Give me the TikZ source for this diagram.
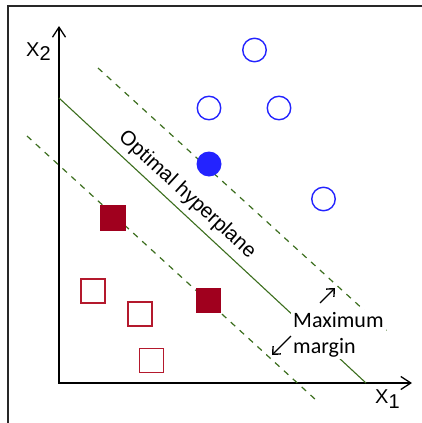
\documentclass[tikz,border=0pt]{standalone}
\usepackage{fontspec}
\setmainfont{Liberation Sans}
\newfontfamily\calfont{Carlito}
\usetikzlibrary{arrows.meta}
\definecolor{hgreen}{RGB}{60,110,30}
\definecolor{ptblue}{RGB}{35,35,255}
\definecolor{ptred}{RGB}{160,0,30}
\definecolor{ptredl}{RGB}{180,25,45}
\definecolor{framec}{RGB}{40,40,40}
\begin{document}
\begin{tikzpicture}[x=1pt,y=-1pt,
  framestyle/.style={draw=framec, line width=1.4pt},
  axisline/.style={line width=1.3pt, {Straight Barb[length=10pt,width=13pt]}-{Straight Barb[length=10pt,width=13pt]}},
  hyper/.style={draw=hgreen, line width=1.1pt},
  marginline/.style={draw=hgreen, line width=1.2pt, dash pattern=on 6pt off 6pt},
  opencirc/.style={circle, draw=ptblue, line width=1.4pt, minimum size=23.5pt, inner sep=0pt},
  fullcirc/.style={circle, fill=ptblue, minimum size=25pt, inner sep=0pt},
  opensq/.style={rectangle, draw=ptredl, line width=1.5pt, minimum size=24pt, inner sep=0pt},
  fullsq/.style={rectangle, fill=ptred, minimum size=25.5pt, inner sep=0pt},
  marr/.style={line width=1.4pt, -{Straight Barb[length=6pt,width=11pt]}},
  axlab/.style={font=\fontsize{20}{20}\selectfont, inner sep=0pt, anchor=base west}
]
\useasboundingbox (0,0) rectangle (422,423);
% frame
\draw[framestyle] (8,430) -- (8,6) -- (430,6);
% axes
\coordinate (O) at (59,383);
\coordinate (Ytip) at (59,26);
\coordinate (Xtip) at (412,383);
\draw[axisline] (Ytip) -- (O) -- (Xtip);
% hyperplane and margins
\coordinate (h1) at (59,98);
\coordinate (h2) at (366,383);
\coordinate (u1) at (98,68);
\coordinate (u2) at (388,332);
\coordinate (l1) at (27,136);
\coordinate (l2) at (316,400);
\draw[hyper] (h1) -- (h2);
\draw[marginline] (u1) -- (u2);
\draw[marginline] (l1) -- (l2);
% labels
\node[axlab] (x2lab) at (26,56) {X\raisebox{-5pt}{2}};
\node[axlab] (x1lab) at (375,403) {X\raisebox{-5pt}{1}};
\node[rotate=-42.5, font=\fontsize{20.5}{20.5}\selectfont, inner sep=0pt] (opt) at (187,195) {Optimal hyperplane};
\node[fill=white, inner sep=2pt, anchor=north west, align=left,
      font=\calfont\fontsize{22}{26}\selectfont] (mm) at (291,310) {Maximum\\margin};
% margin arrows
\coordinate (a1t) at (320,303);
\coordinate (a1h) at (335,288);
\coordinate (a2t) at (291,336);
\coordinate (a2h) at (272,355);
\draw[marr] (a1t) -- (a1h);
\draw[marr] (a2t) -- (a2h);
% blue points
\node[opencirc] (c1) at (254.5,50) {};
\node[opencirc] (c2) at (209,108) {};
\node[opencirc] (c3) at (279,108) {};
\node[opencirc] (c4) at (323.5,199) {};
\node[fullcirc] (c5) at (209,164) {};
% red points
\node[fullsq] (s1) at (113,218) {};
\node[fullsq] (s2) at (208.5,300.5) {};
\node[opensq] (s3) at (93,291) {};
\node[opensq] (s4) at (140,314) {};
\node[opensq] (s5) at (151.5,360.5) {};
\end{tikzpicture}
\end{document}
